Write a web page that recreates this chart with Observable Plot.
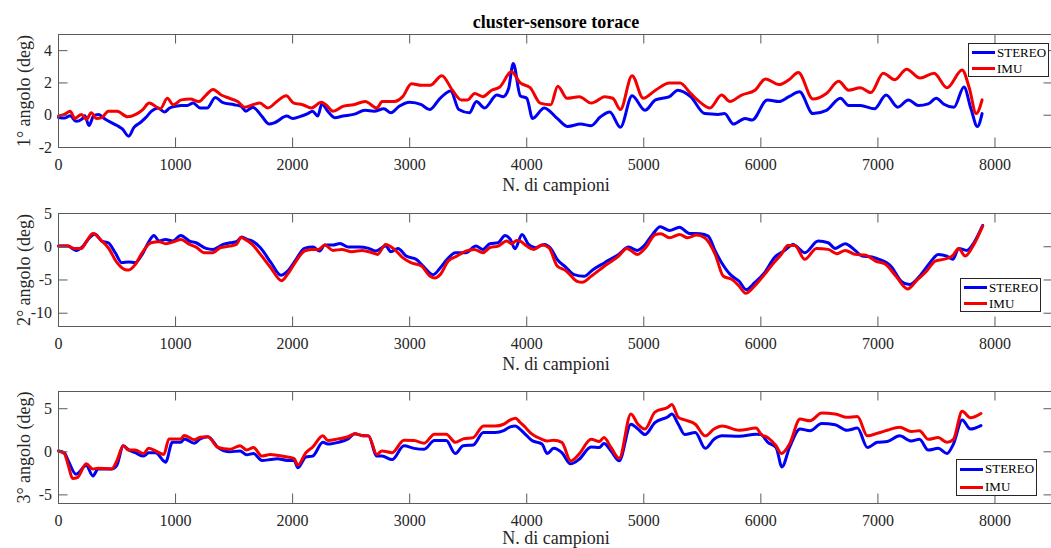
<!DOCTYPE html>
<html>
<head>
<meta charset="utf-8">
<script src="https://cdn.jsdelivr.net/npm/d3@7"></script>
<script src="https://cdn.jsdelivr.net/npm/@observablehq/plot@0.6"></script>
<style>
  html, body { margin: 0; padding: 0; background: #fff; overflow: hidden; }
  #chart { position: relative; width: 1051px; height: 548px; overflow: hidden; }
  #chart svg { position: absolute; left: 0; }
  .legend { position: absolute; box-sizing: border-box; border: 1px solid #262626; background: #fff;
            font: 13px "Liberation Serif", "Times New Roman", serif; color: #000; }
  .legend .row { position: absolute; left: 0; right: 0; height: 16px; line-height: 16px; white-space: nowrap; }
  .legend .sw { position: absolute; left: 3px; top: 6.5px; width: 23px; height: 3px; }
  .legend .lab { position: absolute; left: 28px; top: 0; }
</style>
</head>
<body>
<div id="chart"></div>
<script>
// Chart texts
const title = "cluster-sensore torace";
const xLabel = "N. di campioni";
const yLabels = ["1° angolo (deg)", "2° angolo (deg)", "3° angolo (deg)"];
const seriesNames = ["STEREO", "IMU"];
const seriesColors = ["#0000f5", "#f50000"];

// Axis ticks
const xTicks = [0, 1000, 2000, 3000, 4000, 5000, 6000, 7000, 8000];
const yTicks1 = [-2, 0, 2, 4];
const yTicks2 = [-10, -5, 0, 5];
const yTicks3 = [-5, 0, 5];

// [sample index, angle in degrees]
const stereo1 = [[0,-0.14],[50,-0.18],[100,-0.04],[150,-0.38],[200,-0.24],[225,-0.04],[260,-0.64],[300,-0.04],[340,0.05],[400,-0.25],[500,-0.64],[545,-0.85],[600,-1.3],[645,-0.75],[700,-0.45],[745,-0.15],[795,0.25],[850,0.45],[905,0.2],[950,0.45],[1000,0.55],[1050,0.6],[1100,0.6],[1150,0.75],[1210,0.45],[1270,0.45],[1340,1.1],[1400,0.8],[1500,0.65],[1560,0.55],[1600,0.25],[1660,0.5],[1735,-0.05],[1800,-0.55],[1850,-0.45],[1950,-0.05],[2000,-0.2],[2055,-0.1],[2130,0.1],[2170,0.25],[2215,-0.05],[2250,0.7],[2300,0.25],[2360,-0.15],[2430,-0.05],[2520,0.05],[2620,0.3],[2695,0.25],[2780,0.4],[2840,0.15],[2910,0.55],[3000,0.8],[3100,0.65],[3170,0.35],[3260,1.05],[3350,1.5],[3420,0.35],[3510,0.15],[3570,0.85],[3640,0.45],[3745,1.25],[3800,1.15],[3845,1.65],[3885,3.2],[3945,1.2],[4000,1.05],[4050,-0.2],[4150,0.45],[4260,-0.2],[4350,-0.7],[4460,-0.55],[4550,-0.65],[4630,-0.1],[4710,0.2],[4800,-0.75],[4900,1.2],[5010,0.3],[5100,0.95],[5220,1.15],[5290,1.55],[5400,1.15],[5520,0.1],[5635,0.05],[5690,0.1],[5765,-0.55],[5865,-0.2],[5925,-0.3],[6055,0.95],[6155,0.85],[6240,1.15],[6330,1.45],[6445,0.1],[6560,0.3],[6680,1.05],[6750,0.6],[6850,0.6],[6970,0.4],[7070,1.25],[7170,0.5],[7260,0.95],[7345,0.6],[7430,0.7],[7500,1.05],[7560,0.7],[7650,0.5],[7735,1.75],[7795,0.4],[7850,-0.7],[7890,0.1]];
const imu1 = [[0,-0.05],[50,0.05],[100,0.25],[140,-0.2],[195,0.05],[240,-0.25],[280,0.15],[325,-0.2],[370,-0.15],[425,0.25],[500,0.25],[590,-0.1],[660,0.05],[720,0.35],[775,0.75],[870,0.4],[930,1.05],[980,0.65],[1050,0.95],[1125,1.0],[1200,0.85],[1260,1.25],[1320,1.6],[1390,1.25],[1460,1.05],[1530,0.85],[1590,0.5],[1660,0.65],[1720,0.75],[1790,0.45],[1865,0.85],[1945,1.2],[2010,0.75],[2085,0.65],[2160,0.45],[2245,0.8],[2285,0.65],[2345,0.25],[2430,0.55],[2520,0.65],[2620,0.85],[2720,0.45],[2765,0.85],[2870,0.85],[2940,1.15],[3015,1.95],[3100,1.85],[3175,1.85],[3275,2.45],[3365,1.55],[3440,0.95],[3495,0.95],[3555,1.35],[3625,1.15],[3700,1.55],[3770,1.75],[3870,2.7],[3945,2.0],[4030,1.7],[4115,0.75],[4205,0.65],[4265,1.8],[4345,1.05],[4450,1.15],[4550,0.75],[4590,0.85],[4665,1.15],[4735,1.05],[4800,0.35],[4900,2.45],[4995,1.05],[5100,1.55],[5220,2.0],[5310,2.0],[5400,1.35],[5490,0.75],[5565,0.45],[5665,1.25],[5735,0.85],[5835,1.25],[5950,1.55],[6040,2.25],[6155,1.9],[6240,2.2],[6320,2.65],[6445,1.0],[6560,1.35],[6665,2.1],[6750,1.55],[6850,1.7],[6940,1.4],[7045,2.6],[7145,2.2],[7245,2.85],[7360,2.3],[7480,2.6],[7590,1.7],[7720,2.8],[7780,1.7],[7840,0.1],[7890,0.95]];

const stereo2 = [[0,0.1],[80,0.1],[150,-0.55],[210,0.1],[265,1.35],[310,1.9],[370,0.85],[425,0.6],[485,-0.9],[540,-2.4],[600,-2.3],[655,-2.4],[715,-1.15],[775,0.85],[815,1.7],[860,0.85],[915,1.1],[975,0.85],[1045,1.7],[1120,0.85],[1175,0.6],[1260,-0.25],[1320,-0.4],[1405,0.35],[1465,0.6],[1520,0.75],[1565,1.45],[1610,1.1],[1655,0.85],[1725,-0.15],[1815,-2.4],[1900,-4.3],[1955,-3.7],[2030,-1.9],[2100,-0.25],[2175,-0.05],[2230,-0.65],[2275,0.25],[2345,0.25],[2405,0.5],[2475,-0.05],[2565,-0.05],[2650,-0.25],[2710,-0.65],[2795,0.1],[2840,-0.75],[2900,-0.25],[2970,-1.4],[3055,-1.9],[3115,-2.9],[3200,-4.2],[3260,-3.2],[3320,-1.9],[3390,-0.9],[3480,-0.9],[3565,0.1],[3625,-0.4],[3685,0.45],[3755,0.6],[3815,1.7],[3860,1.1],[3900,-0.3],[3960,1.85],[4015,0.35],[4075,-0.15],[4150,0.35],[4205,-0.25],[4260,-1.9],[4335,-3.1],[4405,-4.2],[4490,-4.45],[4565,-3.45],[4665,-2.4],[4785,-1.15],[4870,-0.05],[4945,-0.55],[5000,0.1],[5075,1.85],[5140,3.0],[5220,2.45],[5305,2.95],[5390,2.0],[5480,1.95],[5550,1.6],[5610,-0.65],[5665,-2.4],[5740,-4.2],[5815,-5.2],[5875,-6.45],[5945,-5.45],[6030,-3.95],[6115,-1.65],[6205,-0.55],[6275,0.35],[6375,-0.9],[6490,0.85],[6575,0.6],[6635,-0.25],[6720,0.45],[6805,-0.55],[6865,-1.4],[6950,-1.55],[7010,-1.9],[7110,-2.9],[7200,-5.2],[7270,-5.7],[7355,-4.45],[7445,-2.4],[7515,-1.15],[7590,-1.4],[7640,-1.9],[7690,-0.25],[7760,-0.55],[7820,0.6],[7895,3.2]];
const imu2 = [[0,0.1],[80,0.1],[135,-0.25],[195,-0.25],[240,0.85],[295,2.0],[370,0.85],[425,-0.15],[500,-2.4],[570,-3.45],[600,-3.5],[655,-2.7],[715,-0.9],[790,0.6],[860,0.75],[915,0.45],[1000,0.85],[1045,1.1],[1120,0.35],[1175,-0.05],[1245,-0.9],[1320,-0.9],[1380,-0.15],[1465,0.1],[1520,0.35],[1560,1.4],[1595,1.1],[1655,0.35],[1725,-1.15],[1815,-3.2],[1905,-5.1],[1955,-4.2],[2030,-2.15],[2100,-0.65],[2160,-0.4],[2220,-0.4],[2275,0.25],[2345,-0.55],[2420,-0.4],[2505,-0.75],[2595,-0.55],[2680,-0.9],[2725,-1.15],[2795,0.35],[2870,-0.4],[2940,-1.65],[3010,-2.4],[3100,-2.9],[3175,-4.45],[3215,-4.7],[3260,-4.2],[3330,-2.15],[3405,-1.4],[3480,-0.65],[3550,-0.4],[3625,-0.9],[3685,-0.15],[3755,0.1],[3830,0.85],[3870,0.45],[3915,0.95],[3944,0.85],[4000,0.1],[4060,-0.4],[4130,0.25],[4190,-0.15],[4260,-2.9],[4335,-3.6],[4430,-5.2],[4475,-5.35],[4550,-4.45],[4665,-2.9],[4785,-1.4],[4855,-0.25],[4945,-1.15],[5015,-0.15],[5100,1.85],[5145,1.95],[5220,1.35],[5305,1.85],[5375,1.35],[5450,1.75],[5520,1.35],[5610,-1.15],[5680,-4.45],[5755,-4.95],[5815,-5.95],[5870,-7.0],[5945,-5.95],[6030,-4.2],[6100,-2.65],[6175,-1.15],[6230,0.2],[6290,0.2],[6375,-1.9],[6475,-0.25],[6575,-0.4],[6650,-1.05],[6720,-0.55],[6805,-1.15],[6890,-1.25],[6980,-2.15],[7065,-2.65],[7155,-4.45],[7255,-6.35],[7330,-5.1],[7415,-3.7],[7490,-2.15],[7560,-1.9],[7635,-1.4],[7690,-0.25],[7745,-1.4],[7820,0.35],[7895,3.1]];

const stereo3 = [[0,0.1],[50,-0.1],[82,-1.0],[150,-2.6],[237,-1.6],[294,-2.8],[338,-2.0],[453,-2.0],[497,-1.6],[554,0.7],[600,0.2],[655,-0.1],[727,-0.5],[771,-0.1],[829,-0.1],[915,-1.2],[973,1.1],[1045,1.1],[1074,1.5],[1160,1.0],[1210,1.5],[1276,1.75],[1363,0.5],[1464,0.0],[1551,0.1],[1608,-0.35],[1666,-0.2],[1738,-1.0],[1810,-0.9],[1868,-0.8],[1955,-1.0],[2013,-1.0],[2045,-1.85],[2113,-0.6],[2171,-0.5],[2258,1.1],[2301,0.9],[2388,1.1],[2474,1.5],[2532,2.1],[2590,1.9],[2648,1.85],[2720,-0.5],[2763,-0.5],[2850,-0.9],[2951,0.7],[3038,0.4],[3124,0.3],[3211,1.3],[3312,1.3],[3390,-0.2],[3457,0.7],[3543,0.8],[3630,2.25],[3731,2.25],[3803,2.45],[3860,2.9],[3904,3.0],[3944,2.6],[3976,2.2],[4045,1.3],[4130,0.9],[4175,-0.2],[4230,0.4],[4300,-0.1],[4375,-1.4],[4445,-0.9],[4550,0.55],[4620,0.5],[4660,0.95],[4720,0.1],[4790,-1.05],[4890,3.2],[4950,2.65],[5010,2.0],[5095,3.4],[5210,4.1],[5240,4.4],[5295,3.2],[5350,2.0],[5440,2.25],[5525,0.4],[5600,1.45],[5670,1.85],[5815,1.8],[5960,2.05],[6000,2.0],[6060,1.1],[6130,0.5],[6180,-1.75],[6245,0.5],[6335,2.65],[6420,2.45],[6520,3.3],[6635,3.15],[6735,2.5],[6825,2.75],[6910,0.5],[6995,1.1],[7080,1.2],[7185,1.85],[7285,1.25],[7355,1.45],[7430,0.2],[7515,0.4],[7590,-0.2],[7645,0.9],[7720,3.7],[7790,2.65],[7880,3.05]];
const imu3 = [[0,0.1],[50,-0.2],[82,-1.5],[121,-3.1],[160,-3.0],[237,-1.4],[294,-2.0],[338,-1.9],[453,-2.0],[497,-1.1],[554,0.7],[600,0.2],[655,0.2],[727,-0.2],[771,0.4],[829,0.1],[900,-0.3],[944,1.5],[1045,1.5],[1074,1.9],[1160,1.4],[1210,1.7],[1276,1.75],[1363,0.5],[1464,0.3],[1551,0.7],[1608,0.2],[1666,0.5],[1738,-0.5],[1810,-0.3],[1868,-0.4],[1955,-0.6],[2013,-0.8],[2045,-1.55],[2113,-0.1],[2171,0.55],[2258,1.85],[2301,1.3],[2388,1.5],[2474,1.75],[2532,2.1],[2590,1.9],[2648,1.85],[2720,-0.3],[2763,0.1],[2850,-0.1],[2951,1.35],[3038,1.3],[3124,1.0],[3211,2.05],[3312,2.05],[3390,1.1],[3457,1.5],[3543,1.65],[3630,3.0],[3731,3.0],[3803,3.2],[3860,3.7],[3904,3.9],[3944,3.4],[3976,3.0],[4045,2.05],[4130,1.45],[4175,1.25],[4230,1.35],[4300,1.1],[4375,-1.05],[4445,-0.3],[4550,1.45],[4620,1.2],[4660,1.65],[4720,0.5],[4790,-0.75],[4890,4.4],[4950,3.2],[5010,2.65],[5095,4.6],[5210,5.2],[5240,5.5],[5295,4.0],[5350,3.7],[5440,3.2],[5525,1.85],[5600,2.65],[5670,3.0],[5815,2.5],[5960,2.75],[6000,2.05],[6060,1.65],[6130,0.7],[6175,-0.2],[6245,0.9],[6335,3.8],[6420,3.6],[6520,4.5],[6635,4.4],[6735,4.0],[6825,4.1],[6910,1.85],[6995,2.15],[7080,2.5],[7185,2.85],[7285,2.35],[7355,2.45],[7430,1.45],[7515,1.65],[7590,1.1],[7645,1.45],[7720,4.7],[7790,3.95],[7880,4.45]];

// Layout of the three stacked axes
const W = 1051, H = 200, tickLen = 9.5, axisColor = "#5a5a5a", textColor = "#262626";
const mL = 58, mR = -2, mT = 34;
const plotW = W - mL - mR;
const panels = [
  {top: 0,   boxH: 113, labelDy: 43.5, yDomain: [-2, 5],  yTicks: yTicks1, stereo: stereo1, imu: imu1, legend: {left: 968, top: 43, width: 81, height: 34}},
  {top: 179, boxH: 113, labelDy: 43.5, yDomain: [-12, 5], yTicks: yTicks2, stereo: stereo2, imu: imu2, legend: {left: 960, top: 278, width: 81, height: 34}},
  {top: 357, boxH: 112, labelDy: 40,   yDomain: [-6, 7],  yTicks: yTicks3, stereo: stereo3, imu: imu3, legend: {left: 956, top: 459, width: 81, height: 37}}
];

const fmt = d => String(d);
const chart = document.getElementById("chart");

panels.forEach((p, i) => {
  const svg = Plot.plot({
    width: W, height: H,
    marginLeft: mL, marginRight: mR, marginTop: mT, marginBottom: H - mT - p.boxH,
    x: {domain: [0, 8500]},
    y: {domain: p.yDomain},
    style: {fontFamily: '"Liberation Serif", "Times New Roman", serif', fontSize: "16px", color: textColor, background: "transparent"},
    marks: [
      Plot.line(p.stereo, {x: d => d[0], y: d => d[1], stroke: seriesColors[0], strokeWidth: 3, curve: "monotone-x", strokeLinejoin: "round"}),
      Plot.line(p.imu, {x: d => d[0], y: d => d[1], stroke: seriesColors[1], strokeWidth: 3, curve: "monotone-x", strokeLinejoin: "round"}),
      Plot.frame({stroke: axisColor}),
      // inward ticks on all four sides of the box
      Plot.tickX(xTicks, {x: d => d, insetTop: p.boxH - tickLen, stroke: axisColor}),
      Plot.tickX(xTicks, {x: d => d, insetBottom: p.boxH - tickLen, stroke: axisColor}),
      Plot.tickY(p.yTicks, {y: d => d, insetRight: plotW - tickLen, stroke: axisColor}),
      Plot.tickY(p.yTicks, {y: d => d, insetLeft: plotW - tickLen, stroke: axisColor}),
      Plot.axisX({ticks: xTicks, tickSize: 0, tickPadding: 11, fontSize: 16, tickFormat: fmt, label: null}),
      Plot.axisY({ticks: p.yTicks, tickSize: 0, tickPadding: 6.5, fontSize: 16, tickFormat: fmt, label: null}),
      Plot.text([xLabel], {text: d => d, frameAnchor: "bottom", textAnchor: "middle", lineAnchor: "bottom", dy: p.labelDy, fontSize: 18}),
      Plot.text([yLabels[i]], {text: d => d, frameAnchor: "left", textAnchor: "middle", lineAnchor: "middle", rotate: -90, dx: -34.7, fontSize: 18}),
      i === 0 ? Plot.text([title], {text: d => d, frameAnchor: "top", textAnchor: "middle", lineAnchor: "bottom", dy: -7, fontSize: 18, fontWeight: "bold", fill: "#000"}) : null
    ]
  });
  svg.style.top = p.top + "px";
  chart.appendChild(svg);

  // legend box inside the axes
  const lg = document.createElement("div");
  lg.className = "legend";
  Object.assign(lg.style, {left: p.legend.left + "px", top: p.legend.top + "px", width: p.legend.width + "px", height: p.legend.height + "px"});
  const centers = [p.legend.height * 0.28, p.legend.height * 0.76];
  seriesNames.forEach((name, k) => {
    const row = document.createElement("div");
    row.className = "row";
    row.style.top = (centers[k] - 8 - 1) + "px";
    const sw = document.createElement("span");
    sw.className = "sw";
    sw.style.background = seriesColors[k];
    const lab = document.createElement("span");
    lab.className = "lab";
    lab.textContent = name;
    row.appendChild(sw);
    row.appendChild(lab);
    lg.appendChild(row);
  });
  chart.appendChild(lg);
});
</script>
</body>
</html>
